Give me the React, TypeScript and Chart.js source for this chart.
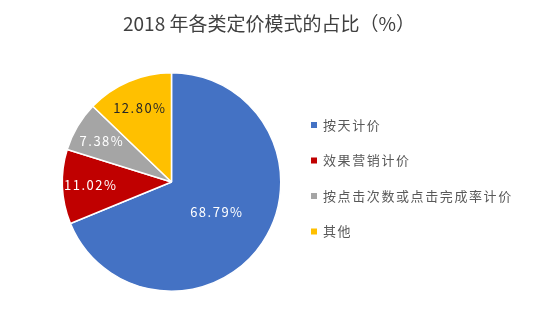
import React, { useEffect, useRef } from "react";
import { Chart, registerables } from "chart.js";
Chart.register(...registerables);

const chartTitle = "2018 年各类定价模式的占比（%）";
const categories = ["按天计价", "效果营销计价", "按点击次数或点击完成率计价", "其他"];
const shares = [68.79, 11.02, 7.38, 12.8];
const sliceColors = ["#4472C4", "#C00000", "#A5A5A5", "#FFC000"];
const labelColors = ["#FFFFFF", "#FFFFFF", "#FFFFFF", "#262626"];

const FONT = '"Noto Sans CJK SC", "Noto Sans", sans-serif';

const overlay = {
  id: "overlay",
  afterDatasetsDraw(chart: any) {
    const ctx = chart.ctx as CanvasRenderingContext2D;
    const meta = chart.getDatasetMeta(0);
    ctx.save();
    // title
    ctx.font = `19px ${FONT}`;
    ctx.fillStyle = "#404040";
    ctx.textAlign = "center";
    ctx.textBaseline = "middle";
    ctx.fillText(chartTitle, 269, 24);

    // data labels
    ctx.font = `13px ${FONT}`;
    (ctx as any).letterSpacing = "1.5px";
    meta.data.forEach((arc: any, i: number) => {
      const p = arc.getProps(["x", "y", "startAngle", "endAngle", "outerRadius"], true);
      const mid = (p.startAngle + p.endAngle) / 2;
      const f = shares[i] > 20 ? 0.5 : 0.74;
      const lx = p.x + Math.cos(mid) * p.outerRadius * f;
      const ly = p.y + Math.sin(mid) * p.outerRadius * f;
      ctx.fillStyle = labelColors[i];
      ctx.fillText(shares[i].toFixed(2) + "%", lx, ly);
    });

    // legend
    ctx.textAlign = "left";
    ctx.font = `13px ${FONT}`;
    (ctx as any).letterSpacing = "1.6px";
    const labels = chart.data.labels as string[];
    labels.forEach((lab: string, i: number) => {
      const cy = 125 + i * 35.5;
      ctx.fillStyle = sliceColors[i];
      ctx.fillRect(311, cy - 3, 6, 6);
      ctx.fillStyle = "#595959";
      ctx.fillText(lab, 323, cy);
    });
    ctx.restore();
  },
};

export default function App() {
  const ref = useRef<HTMLCanvasElement>(null);
  useEffect(() => {
    if (!ref.current) return;
    const chart = new Chart(ref.current, {
      type: "pie",
      data: {
        labels: categories,
        datasets: [
          {
            data: shares,
            backgroundColor: sliceColors,
            borderColor: "#FFFFFF",
            borderWidth: 1.5,
          },
        ],
      },
      options: {
        responsive: false,
        animation: false,
        rotation: 0,
        layout: { padding: { left: 61, right: 268, top: 72, bottom: 40 } },
        plugins: {
          legend: { display: false },
          title: { display: false },
          tooltip: { enabled: false },
        },
      },
      plugins: [overlay],
    });
    return () => chart.destroy();
  }, []);
  return (
    <div style={{ position: "fixed", left: 0, top: 0, width: 550, height: 332, background: "#fff" }}>
      <canvas ref={ref} width={550} height={332} style={{ width: 550, height: 332 }} />
    </div>
  );
}
